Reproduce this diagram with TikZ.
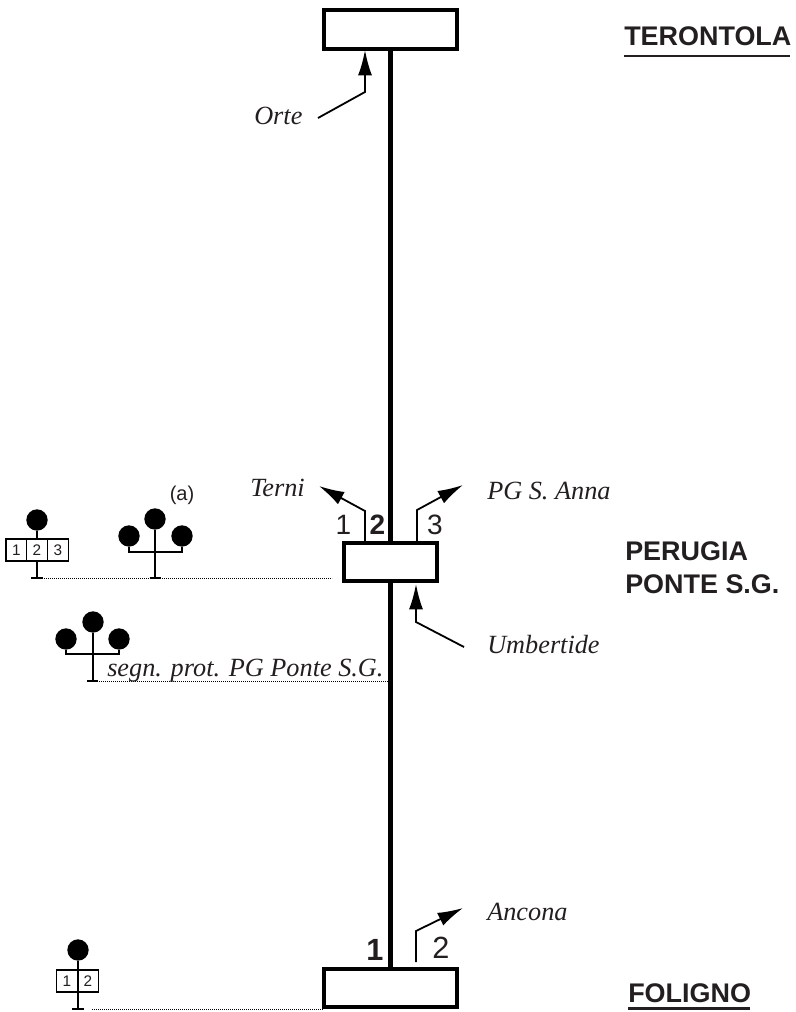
\documentclass[tikz,border=0pt]{standalone}
\usepackage{fontspec}
\setmainfont{Liberation Serif}
\setsansfont{Liberation Sans}
\usetikzlibrary{arrows.meta}
\definecolor{ink}{HTML}{231F20}
\tikzset{
  station/.style={draw=black,line width=3pt,fill=white,inner sep=0pt},
  trackline/.style={line width=3.8pt,black},
  branch/.style={line width=1.35pt,black,-{Latex[length=19pt,width=10.5pt]}},
  place/.style={font=\fontsize{19.7}{19.7}\selectfont\itshape,text=ink,inner sep=0pt,anchor=base west},
  city/.style={font=\fontsize{20.2}{22}\selectfont\sffamily\bfseries,text=ink,inner sep=0pt,anchor=base west,align=left},
  tracknum/.style={font=\fontsize{21}{21}\selectfont\sffamily,text=ink,inner sep=0pt,anchor=base},
  tracknumb/.style={tracknum,font=\fontsize{21}{21}\selectfont\sffamily\bfseries},
  lamp/.style={circle,fill=black,inner sep=0pt,minimum size=16pt},
  numbox/.style={draw=black,line width=1.2pt,fill=white,inner sep=0pt,minimum width=15.6pt,minimum height=16.5pt,font=\fontsize{11.5}{11.5}\selectfont\sffamily,text=ink},
  mast/.style={line width=1.2pt,black},
  foot/.style={line width=1.8pt,black},
  leader/.style={line width=.6pt,black,dash pattern=on .7pt off .8pt},
  under/.style={line width=2pt,ink}
}
\begin{document}
\begin{tikzpicture}[x=0.75pt,y=-0.75pt]
\useasboundingbox (0,0) rectangle (795,1012);
\fill[white] (0,0) rectangle (795,1012);
% stations
\node[station,minimum width=99.5pt,minimum height=29pt] (top) at (390.5,29.5) {};
\node[station,minimum width=69.5pt,minimum height=28.5pt] (per) at (390.5,562) {};
\node[station,minimum width=99.5pt,minimum height=28.5pt] (fol) at (390.5,988) {};
% track
\draw[trackline] (top.south) -- (per.north);
\draw[trackline] (per.south) -- (fol.north);
% Orte
\coordinate (orteA) at (318,118);
\coordinate (orteB) at (365,92);
\coordinate (orteT) at (365,50);
\draw[branch] (orteA) -- (orteB) -- (orteT);
\node[place] (orte) at (254,125) {Orte};
% Perugia branches
\coordinate (terA) at (365,541);
\coordinate (terB) at (365,511);
\coordinate (terT) at (319,486);
\draw[branch] (terA) -- (terB) -- (terT);
\coordinate (annA) at (417,541);
\coordinate (annB) at (417,510);
\coordinate (annT) at (463,485);
\draw[branch] (annA) -- (annB) -- (annT);
\coordinate (umbA) at (464,647);
\coordinate (umbB) at (416,622);
\coordinate (umbT) at (416,584);
\draw[branch] (umbA) -- (umbB) -- (umbT);
\node[place] (terni) at (250,496) {Terni};
\node[place] (anna) at (487,499) {PG S. Anna};
\node[place] (umb) at (487,653) {Umbertide};
\node[tracknum] (n1) at (343.5,534) {1};
\node[tracknumb] (n2) at (377.5,534) {2};
\node[tracknum] (n3) at (435,534) {3};
% Foligno branch
\coordinate (ancA) at (416,962);
\coordinate (ancB) at (416,931);
\coordinate (ancT) at (463,908);
\draw[branch] (ancA) -- (ancB) -- (ancT);
\node[place] (anc) at (487,920) {Ancona};
\node[tracknumb,font=\fontsize{23}{23}\selectfont\sffamily\bfseries] (f1) at (375,960) {1};
\node[tracknum,font=\fontsize{23}{23}\selectfont\sffamily] (f2) at (441,958) {2};
% city names
\node[city] (ter) at (624,46) {TERONTOLA};
\draw[under] (ter.base west)++(0,10) -- ++(166,0);
\node[city] (pg1) at (625,560) {PERUGIA};
\node[city] (pg2) at (625,593) {PONTE S.G.};
\node[city] (folc) at (628,1002.5) {FOLIGNO};
\draw[under] (folc.base west)++(0,6) -- ++(122,0);
% signal A
\coordinate (aF) at (37,578);
\node[lamp] (aL) at (37,520) {};
\draw[mast] (aL) -- (aF);
\draw[foot] (31,578) -- (43,578);
\node[numbox] (a1) at (16.5,550) {1};
\node[numbox] (a2) at (37,550) {2};
\node[numbox] (a3) at (58,550) {3};
% signal B
\node[lamp] (bC) at (155,519) {};
\node[lamp] (bL) at (129,536) {};
\node[lamp] (bR) at (182,536) {};
\coordinate (bF) at (155,578);
\draw[mast] (bC) -- (bF);
\draw[mast] (bL) |- (155,552) -| (bR);
\draw[foot] (149.5,578) -- (161,578);
\node[font=\fontsize{15}{15}\selectfont\sffamily,text=ink,inner sep=0pt] (alab) at (182,495) {(a)};
\draw[leader] (aF)++(7,0) -- (332,578);
% signal C
\node[lamp] (cC) at (93,622) {};
\node[lamp] (cL) at (66,639) {};
\node[lamp] (cR) at (119,639) {};
\coordinate (cF) at (93,681);
\draw[mast] (cC) -- (cF);
\draw[mast] (cL) |- (93,654) -| (cR);
\draw[foot] (87,681) -- (98,681);
\draw[leader] (cF)++(6,0) -- (388,681);
\node[place] (seg) at (107,676) {segn. prot. PG Ponte S.G.};
% signal D
\node[lamp] (dL) at (78,950) {};
\coordinate (dF) at (78,1009);
\node[numbox,minimum width=15.5pt] (d1) at (67,981) {1};
\node[numbox,minimum width=15.5pt] (d2) at (88,981) {2};
\draw[mast] (dL) -- (dF);
\draw[foot] (72,1009) -- (84,1009);
\draw[leader] (dF)++(14,0) -- (323,1009);
\end{tikzpicture}
\end{document}
